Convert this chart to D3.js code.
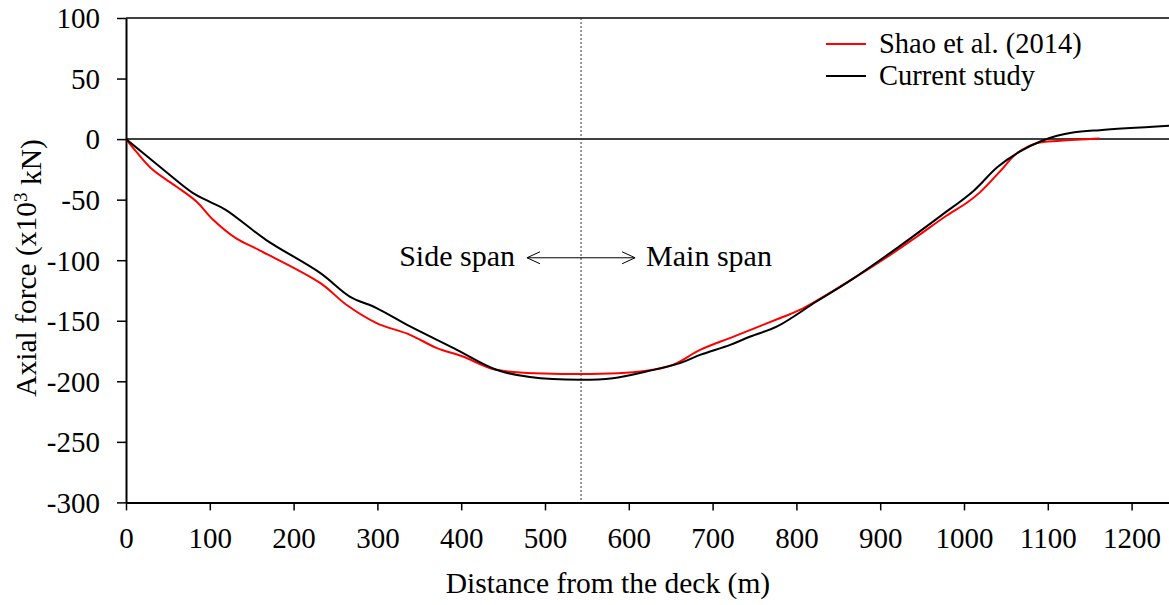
<!DOCTYPE html>
<html>
<head>
<meta charset="utf-8">
<script src="https://cdn.jsdelivr.net/npm/d3@7"></script>
<style>
  body { margin: 0; background: #fff; }
  svg text { font-family: "Liberation Serif", "Times New Roman", serif; fill: #000; }
</style>
</head>
<body>
<div id="chart"></div>
<script>
// distance from the deck (m) and axial force (x10^3 kN)
const shaoX = [0, 12, 32, 60, 84, 104, 131, 160, 232, 263, 299, 339, 371, 402, 442, 542, 621, 653, 685, 725, 780, 804, 856, 912, 944, 979, 1003, 1019, 1043, 1063, 1087, 1115, 1162];
const shaoY = [0, -10.2, -25.4, -39.1, -51.5, -66.6, -81.8, -92, -118.9, -136.8, -151.9, -161.6, -172.6, -179.5, -190.5, -194, -191.3, -186.3, -174.1, -163.1, -147.9, -141.1, -120.2, -95.6, -80.4, -63.3, -52.8, -44, -26.7, -11.7, -3.3, -1.4, 0.5];

const currentX = [0, 40, 80, 99, 119, 167, 232, 267, 299, 339, 391, 442, 482, 542, 581, 621, 661, 685, 721, 745, 777, 824, 866, 920, 971, 1011, 1040, 1067, 1091, 1111, 1130, 1162, 1245];
const currentY = [0, -22.6, -44.6, -51.5, -58.4, -83.2, -110.7, -130, -139.5, -154.7, -172.6, -190.5, -196.5, -198.8, -197.4, -191.9, -185, -178.2, -169.9, -163, -154.7, -134.1, -116, -90, -64, -43, -23, -10.2, -2, 2.7, 5.4, 7.4, 11];

const xTicks = [0, 100, 200, 300, 400, 500, 600, 700, 800, 900, 1000, 1100, 1200];
const yTicks = [100, 50, 0, -50, -100, -150, -200, -250, -300];
const dividerX = 543;

const width = 1169, height = 605;
const margin = { top: 18, left: 126 };
const plotW = 1047.5, plotH = 484.4;

const svg = d3.select('#chart')
  .append('svg')
  .attr('width', width)
  .attr('height', height);

const g = svg.append('g')
  .attr('transform', `translate(${margin.left},${margin.top})`);

const x = d3.scaleLinear().domain([0, 1250]).range([0, plotW]);
const y = d3.scaleLinear().domain([-300, 100]).range([plotH, 0]);

// top frame line
g.append('line')
  .attr('x1', 0).attr('x2', plotW)
  .attr('y1', 0).attr('y2', 0)
  .attr('stroke', '#000').attr('stroke-width', 1.5);

// zero line
g.append('line')
  .attr('x1', 0).attr('x2', plotW)
  .attr('y1', y(0)).attr('y2', y(0))
  .attr('stroke', '#000').attr('stroke-width', 1.5);

// divider between side span and main span
g.append('line')
  .attr('x1', x(dividerX)).attr('x2', x(dividerX))
  .attr('y1', 0).attr('y2', plotH)
  .attr('stroke', '#333').attr('stroke-width', 1)
  .attr('stroke-dasharray', '2,2');

// axes
const fmt = d => String(d);
const xAxis = g.append('g')
  .attr('transform', `translate(0,${plotH})`)
  .call(d3.axisBottom(x).tickValues(xTicks).tickFormat(fmt).tickSize(8).tickPadding(17).tickSizeOuter(0));
const yAxis = g.append('g')
  .call(d3.axisLeft(y).tickValues(yTicks).tickFormat(fmt).tickSize(9).tickPadding(17).tickSizeOuter(0));

[xAxis, yAxis].forEach(a => {
  a.select('.domain').attr('stroke', '#000').attr('stroke-width', 2);
  a.selectAll('.tick line').attr('stroke', '#000').attr('stroke-width', 1.5);
  a.selectAll('.tick text')
    .style('font-family', '"Liberation Serif", serif')
    .style('font-size', '29px')
    .attr('fill', '#000');
});
yAxis.selectAll('.tick text').attr('dy', '0.34em');

// curves
const line = d3.line()
  .x(d => x(d[0]))
  .y(d => y(d[1]))
  .curve(d3.curveCatmullRom.alpha(0.5));

svg.append('clipPath').attr('id', 'plotclip')
  .append('rect').attr('x', 0).attr('y', -5).attr('width', plotW).attr('height', plotH + 10);

g.append('path')
  .datum(shaoX.map((d, i) => [d, shaoY[i]]))
  .attr('d', line)
  .attr('fill', 'none')
  .attr('stroke', '#ff0000')
  .attr('stroke-width', 2)
  .attr('clip-path', 'url(#plotclip)');

g.append('path')
  .datum(currentX.map((d, i) => [d, currentY[i]]))
  .attr('d', line)
  .attr('fill', 'none')
  .attr('stroke', '#000')
  .attr('stroke-width', 2)
  .attr('clip-path', 'url(#plotclip)');

// span annotation
const arrowY = y(-98);
const ax1 = x(478.5), ax2 = x(607.5);
g.append('line')
  .attr('x1', ax1).attr('x2', ax2)
  .attr('y1', arrowY).attr('y2', arrowY)
  .attr('stroke', '#000').attr('stroke-width', 1);
g.append('path')
  .attr('d', `M${ax1 + 13},${arrowY - 6} L${ax1},${arrowY} L${ax1 + 13},${arrowY + 6}`)
  .attr('fill', 'none').attr('stroke', '#000').attr('stroke-width', 1);
g.append('path')
  .attr('d', `M${ax2 - 13},${arrowY - 6} L${ax2},${arrowY} L${ax2 - 13},${arrowY + 6}`)
  .attr('fill', 'none').attr('stroke', '#000').attr('stroke-width', 1);

g.append('text')
  .attr('x', ax1 - 12).attr('y', arrowY + 8)
  .attr('text-anchor', 'end')
  .style('font-size', '30px')
  .text('Side span');
g.append('text')
  .attr('x', ax2 + 11).attr('y', arrowY + 8)
  .attr('text-anchor', 'start')
  .style('font-size', '30px')
  .text('Main span');

// legend
const legend = [
  { label: 'Shao et al. (2014)', color: '#ff0000' },
  { label: 'Current study', color: '#000' }
];
const lg = svg.append('g').attr('transform', 'translate(826,44)');
legend.forEach((d, i) => {
  const row = lg.append('g').attr('transform', `translate(0,${i * 32})`);
  row.append('line')
    .attr('x1', 0).attr('x2', 40)
    .attr('y1', 0).attr('y2', 0)
    .attr('stroke', d.color).attr('stroke-width', 2);
  row.append('text')
    .attr('x', 53).attr('y', 9)
    .style('font-size', '28.5px')
    .text(d.label);
});

// axis titles
svg.append('text')
  .attr('x', 608)
  .attr('y', 593)
  .attr('text-anchor', 'middle')
  .style('font-size', '29.5px')
  .text('Distance from the deck (m)');

const yt = svg.append('text')
  .attr('transform', 'translate(36,268) rotate(-90)')
  .attr('text-anchor', 'middle')
  .style('font-size', '29.5px');
yt.append('tspan').text('Axial force (x10');
yt.append('tspan').attr('dy', '-0.45em').style('font-size', '19px').text('3');
yt.append('tspan').attr('dy', '0.45em').text(' kN)');
</script>
</body>
</html>
